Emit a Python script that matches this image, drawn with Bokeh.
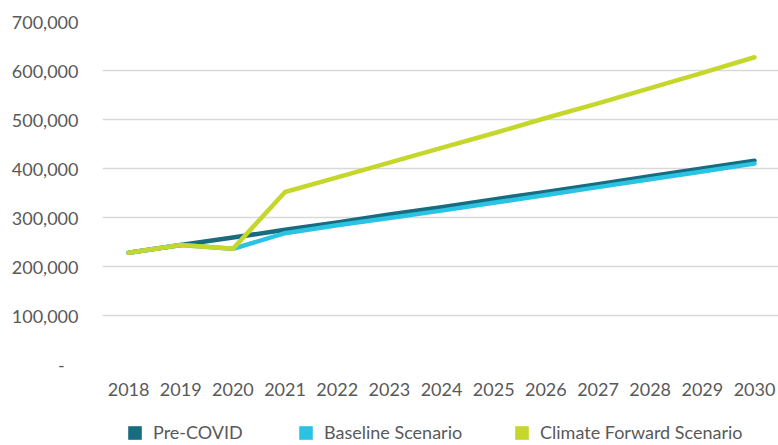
from bokeh.plotting import figure
from bokeh.layouts import column
from bokeh.models import (FixedTicker, CustomJSTickFormatter, Legend, LegendItem, Range1d, ColumnDataSource)
from bokeh.embed import file_html
from bokeh.resources import INLINE

years = [2018, 2019, 2020, 2021, 2022, 2023, 2024, 2025, 2026, 2027, 2028, 2029, 2030]
pre_covid = [228000, 244000, 259000, 275000, 290000, 306000, 321000, 337000, 352000, 368000, 384000, 400000, 416000]
baseline = [228000, 244000, 236000, 268000, 284000, 299000, 314000, 330000, 346000, 362000, 378000, 394000, 410000]
climate = [228000, 244000, 236000, 352000, 382000, 412000, 442000, 472000, 503000, 533000, 564000, 595000, 627000]
series_names = ["Pre-COVID", "Baseline Scenario", "Climate Forward Scenario"]
colors = ["#176C80", "#2BC3E3", "#C4D72A"]
y_ticks = [0, 100000, 200000, 300000, 400000, 500000, 600000, 700000]

FONT = "Lato"
GREY = "#595959"

p = figure(width=778, height=410, output_backend="svg", toolbar_location=None,
           x_range=Range1d(2017.5, 2030.46), y_range=Range1d(0, 700000),
           min_border_left=102, min_border_right=0, min_border_top=21, min_border_bottom=46)
p.outline_line_color = None

src = ColumnDataSource(dict(x=years, a=pre_covid, b=baseline, c=climate))
for col, colr in zip(["a", "b", "c"], colors):
    p.line("x", col, source=src, line_color=colr, line_width=4.5, line_cap="round", line_join="round")

p.xaxis.ticker = FixedTicker(ticks=years)
p.yaxis.ticker = FixedTicker(ticks=y_ticks)
p.yaxis.formatter = CustomJSTickFormatter(code="""
    if (tick == 0) { return "-\u00a0\u00a0\u00a0"; }
    return tick.toLocaleString('en-US');
""")
for ax in (p.xaxis[0], p.yaxis[0]):
    ax.axis_line_color = None
    ax.major_tick_line_color = None
    ax.minor_tick_line_color = None
    ax.major_label_text_font = FONT
    ax.major_label_text_font_size = "18px"
    ax.major_label_text_color = GREY
p.yaxis.major_label_standoff = 18
p.xaxis.major_label_standoff = 12

p.xgrid.grid_line_color = None
p.ygrid.grid_line_color = "#D9D9D9"
p.ygrid.grid_line_width = 1.5

# legend strip below the chart (its frame is aligned with the chart's frame)
q = figure(width=778, height=35, output_backend="svg", toolbar_location=None,
           x_range=Range1d(0, 676), y_range=Range1d(0, 35),
           min_border_left=0, min_border_right=0, min_border_top=0, min_border_bottom=0)
q.outline_line_color = None
q.axis.visible = False
q.grid.visible = False

legend_x = [24, 195, 411]
for name, colr, lx in zip(series_names, colors, legend_x):
    # proxy renderer kept outside the visible range, only for the legend swatch
    r = q.quad(left=[-20], right=[-10], top=[-20], bottom=[-10], fill_color=colr, line_color=None)
    lg = Legend(items=[LegendItem(label=name, renderers=[r])], location=(lx, 2),
                orientation="horizontal", glyph_width=17, glyph_height=17,
                label_standoff=10, padding=0, margin=0, border_line_color=None,
                background_fill_alpha=0, label_text_font=FONT,
                label_text_font_size="18px", label_text_color=GREY, label_height=20)
    q.add_layout(lg, "center")

layout = column(p, q, spacing=0)
open("out.html", "w").write(file_html(layout, INLINE))
